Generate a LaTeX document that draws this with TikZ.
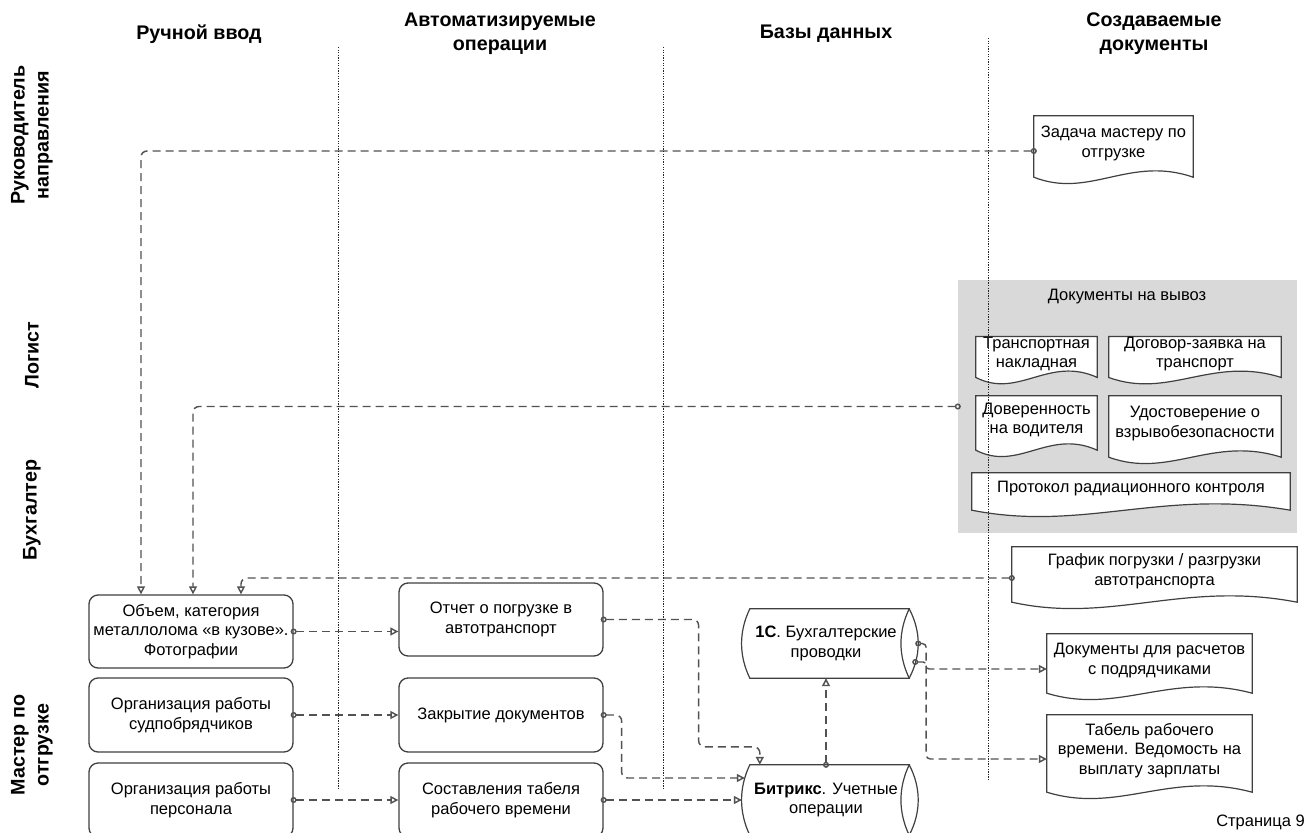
\documentclass[tikz,border=0pt]{standalone}
\usepackage{fontspec}
\setmainfont{Liberation Sans}
\usetikzlibrary{arrows.meta,calc}
\pgfdeclarelayer{bg}
\pgfdeclarelayer{shapes}
\pgfdeclarelayer{fg}
\pgfsetlayers{bg,shapes,main,fg}

\newcommand\dgbody{\fontsize{16.5}{19.8}\selectfont}
\newcommand\dghead{\bfseries\fontsize{19.7}{24}\selectfont}

% document outline: straight top and sides, wavy bottom
\newcommand\docoutline[1]{%
  \draw[docline] ($(#1.south west)+(0,6)$) -- (#1.north west) -- (#1.north east)
    -- ($(#1.south east)+(0,6)$)
    .. controls ($(#1.south east)!0.4!(#1.south west)+(0,-16)$)
           and ($(#1.south east)!0.65!(#1.south west)+(0,28)$)
    .. ($(#1.south west)+(0,6)$) -- cycle;}

% horizontal storage cylinder; the end cap lies 7pt right of the text frame
\newcommand\cyloutline[1]{%
  \coordinate (#1-ne) at ($(#1.north east)+(7,0)$);
  \coordinate (#1-se) at ($(#1.south east)+(7,0)$);
  \draw[docline] (#1.north west) -- (#1-ne)
    .. controls ($(#1-ne)+(-11,23)$) and ($(#1-se)+(-11,-23)$) .. (#1-se)
    -- (#1.south west)
    .. controls ($(#1.south west)+(-11,-23)$) and ($(#1.north west)+(-11,23)$) .. (#1.north west) -- cycle;
  \draw[docline, fill=none] (#1-ne)
    .. controls ($(#1-ne)+(12,23)$) and ($(#1-se)+(12,-23)$) .. (#1-se);}

\begin{document}
\begin{tikzpicture}[x=1pt, y=-1pt,
  head/.style={font=\dghead, align=center, inner sep=0pt},
  lane/.style={font=\dghead, align=center, inner sep=0pt, rotate=90},
  box/.style={draw=black!75, line width=1.3pt, rounded corners=9pt, fill=white,
    align=center, font=\dgbody, inner sep=0pt, minimum width=204pt},
  docnode/.style={draw=none, align=center, font=\dgbody, inner sep=0pt},
  docline/.style={draw=black!75, line width=1.2pt, fill=white},
  lanesep/.style={draw=black!85, line width=0.8pt, dash pattern=on 1.3pt off 1.3pt},
  conn/.style={draw=black!68, line width=1.45pt, dash pattern=on 8pt off 5pt, rounded corners=6pt},
  flow/.style={conn, {Circle[open,length=6pt,width=6pt]}-{Triangle[open,length=8pt,width=8pt]},
    shorten <=-3pt},
]
\useasboundingbox (0,0) rectangle (1308,832);
\clip (0,0) rectangle (1308,832);

\begin{pgfonlayer}{bg}
  \fill[white] (0,0) rectangle (1308,832);
  \node[fill=black!15, draw=none, minimum width=339pt, minimum height=253pt, inner sep=0pt]
    (grp) at (1127.5,406.5) {};
\end{pgfonlayer}

% column headers
\node[head] (h1) at (199,34) {Ручной ввод};
\node[head] (h2) at (500,34) {Автоматизируемые\\операции};
\node[head] (h3) at (826,34) {Базы данных};
\node[head] (h4) at (1154,34) {Создаваемые\\документы};

% row labels
\node[lane] (r1) at (32,135) {Руководитель\\направления};
\node[lane] (r2) at (32,355) {Логист};
\node[lane] (r3) at (32,510) {Бухгалтер};
\node[lane] (r4) at (32,745) {Мастер по\\отгрузке};

% manual input
\node[box, minimum height=73pt] (boxA) at (191,631.5) {Объем, категория\\металлолома «в кузове».\\Фотографии};
\node[box, minimum height=74pt] (boxB) at (191,715) {Организация работы\\судпобрядчиков};
\node[box, minimum height=74pt] (boxC) at (191,800) {Организация работы\\персонала};

% automated operations
\node[box, minimum height=73pt] (boxD) at (501,619.5) {Отчет о погрузке в\\автотранспорт};
\node[box, minimum height=74pt] (boxE) at (501,715) {Закрытие документов};
\node[box, minimum height=74pt] (boxF) at (501,800) {Составления табеля\\рабочего времени};

% databases
\node[docnode, minimum width=152pt, minimum height=69pt] (onec) at (826,643.5) {\textbf{1С}. Бухгалтерские\\проводки};
\node[docnode, minimum width=152pt, minimum height=70pt] (bitrix) at (826,800) {\textbf{Битрикс}. Учетные\\операции};

% produced documents
\node[docnode, minimum width=159pt, minimum height=55pt] (zad) at (1113.5,143.5) {Задача мастеру по\\отгрузке};
\node[font=\dgbody, inner sep=0pt] (grpt) at (1127,297) {Документы на вывоз};
\node[docnode, minimum width=121pt, minimum height=34pt] (trans) at (1036.5,354) {Транспортная\\накладная};
\node[docnode, minimum width=172pt, minimum height=34pt] (dogov) at (1195,354) {Договор-заявка на\\транспорт};
\node[docnode, minimum width=121pt, minimum height=48pt] (dover) at (1036.5,420) {Доверенность\\на водителя};
\node[docnode, minimum width=172pt, minimum height=55pt] (udost) at (1195,423.5) {Удостоверение о\\взрывобезопасности};
\node[docnode, minimum width=318pt, minimum height=31pt] (prot) at (1131,488.5) {Протокол радиационного контроля};
\node[docnode, minimum width=285pt, minimum height=49pt] (graf) at (1154.5,571.5) {График погрузки / разгрузки\\автотранспорта};
\node[docnode, minimum width=205pt, minimum height=53pt] (rasch) at (1149.5,660.5) {Документы для расчетов\\с подрядчиками};
\node[docnode, minimum width=205pt, minimum height=71pt] (tabel) at (1149.5,750.5) {Табель рабочего\\времени. Ведомость на\\выплату зарплаты};

\node[anchor=east, font=\dgbody, inner sep=0pt] (page) at (1305,822) {Страница 9};

\begin{pgfonlayer}{shapes}
  \docoutline{zad}
  \docoutline{trans}
  \docoutline{dogov}
  \docoutline{dover}
  \docoutline{udost}
  \docoutline{prot}
  \docoutline{graf}
  \docoutline{rasch}
  \docoutline{tabel}
  \cyloutline{onec}
  \cyloutline{bitrix}
\end{pgfonlayer}

% information flows
\draw[flow] ([yshift=-7.5pt]zad.west) -| ([xshift=-50pt]boxA.north);
\draw[flow] (grp.west) -| ([xshift=2pt]boxA.north);
\draw[flow] ([yshift=-6.5pt]graf.west) -| ([xshift=50pt]boxA.north);
\draw[flow] (boxA.east) -- (boxA.east -| boxD.west);
\draw[flow] (boxB.east) -- (boxE.west);
\draw[flow] (boxC.east) -- (boxF.west);
\draw[flow] (boxD.east) -- ++(95,0) |- ([xshift=10pt,yshift=18pt]bitrix.north west)
  -- ([xshift=10pt]bitrix.north west);
\draw[flow] (boxE.east) -- ++(18,0) |- ([xshift=-5pt,yshift=22pt]bitrix.west);
\draw[flow] (boxF.east) -- ([xshift=-8pt]bitrix.west);
\draw[flow] (bitrix.north) -- (onec.south);
\draw[flow, rounded corners=4pt] ([xshift=16pt]onec.east) -- ++(8,0) |- ([yshift=-8.5pt]tabel.west);
\draw[flow, rounded corners=3pt] ([xshift=13pt,yshift=-18.5pt]onec.east) -- ++(11,0) |- ([yshift=-8.5pt]rasch.west);

% lane separators
\begin{pgfonlayer}{fg}
  \draw[lanesep] (338,47) -- (338,790);
  \draw[lanesep] (663,47) -- (663,790);
  \draw[lanesep] (988,38) -- (988,780);
\end{pgfonlayer}
\end{tikzpicture}
\end{document}
